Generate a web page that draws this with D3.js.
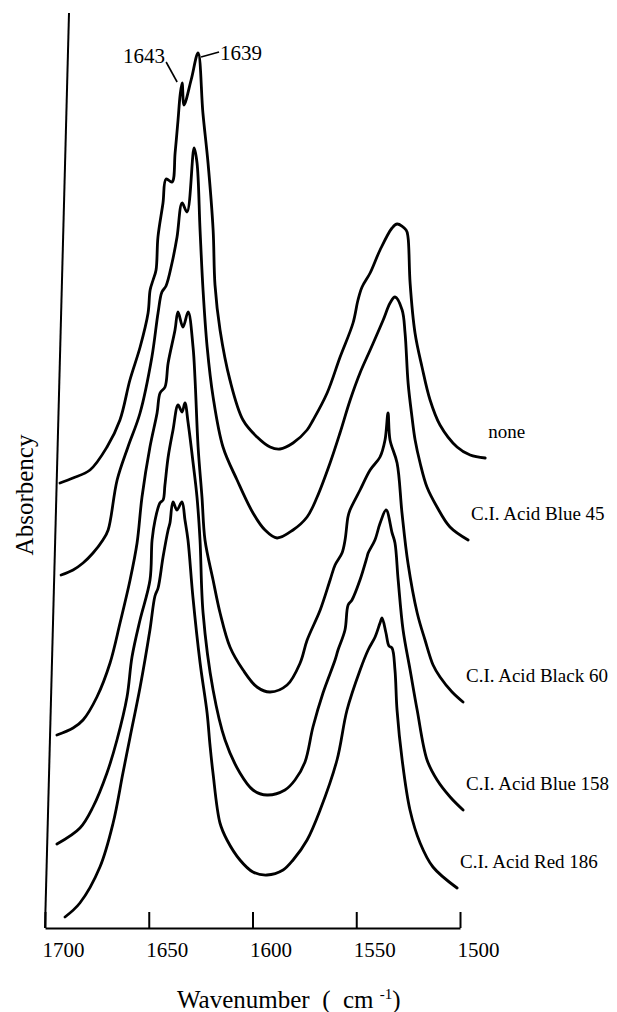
<!DOCTYPE html>
<html>
<head>
<meta charset="utf-8">
<script src="https://cdn.jsdelivr.net/npm/d3@7"></script>
<style>
body { margin: 0; background: #fff; }
svg text { font-family: "Liberation Serif", "Times New Roman", serif; fill: #000; }
path.spec { fill: none; stroke: #000; stroke-width: 2.8; stroke-linejoin: round; stroke-linecap: round; }
</style>
</head>
<body>
<div id="chart"></div>
<script>
// spectra: [wavenumber cm-1, absorbency (arb.)]
var noneData = [[1698.4,4.45],[1692.2,4.50],[1684.1,4.58],[1676.2,4.81],[1670.3,5.08],[1666.0,5.48],[1661.5,5.81],[1658.1,6.15],[1657.4,6.38],[1656.1,6.48],[1654.8,6.58],[1654.3,6.91],[1652.3,7.25],[1651.1,7.49],[1648.2,7.46],[1647.1,7.75],[1646.1,8.08],[1645.4,8.33],[1644.6,8.45],[1643.4,8.23],[1640.3,8.48],[1637.3,8.75],[1634.2,8.15],[1631.1,7.65],[1627.8,6.98],[1626.2,6.43],[1623.2,5.98],[1617.8,5.48],[1611.0,5.08],[1604.0,4.91],[1597.6,4.81],[1592.8,4.79],[1586.6,4.85],[1580.0,4.98],[1577.2,5.08],[1570.8,5.35],[1565.0,5.71],[1559.2,6.05],[1557.1,6.28],[1555.3,6.41],[1551.6,6.55],[1547.1,6.78],[1541.6,7.00],[1539.2,7.04],[1534.8,6.98],[1533.8,6.91],[1532.2,6.45],[1529.2,5.95],[1525.4,5.61],[1521.1,5.28],[1516.0,5.03],[1507.5,4.81],[1501.1,4.73],[1493.8,4.70]];

var blue45Data = [[1696.7,3.53],[1691.0,3.58],[1686.3,3.65],[1681.6,3.75],[1677.0,3.88],[1674.6,3.98],[1670.9,4.48],[1666.1,4.81],[1660.7,5.15],[1655.7,5.71],[1653.3,6.15],[1651.7,6.36],[1649.8,6.42],[1647.2,6.65],[1645.1,6.91],[1643.1,7.25],[1640.6,7.16],[1638.0,7.80],[1636.4,7.65],[1634.1,6.98],[1631.9,6.38],[1629.2,5.81],[1625.7,5.31],[1620.3,4.81],[1613.1,4.48],[1605.0,4.15],[1599.0,3.98],[1593.1,3.90],[1585.5,3.98],[1578.9,4.11],[1574.3,4.31],[1568.5,4.65],[1564.1,4.95],[1559.6,5.28],[1555.2,5.55],[1550.6,5.78],[1544.7,6.08],[1541.6,6.25],[1539.3,6.31],[1535.7,6.18],[1534.0,5.95],[1531.9,5.45],[1529.6,5.11],[1527.8,4.88],[1525.1,4.65],[1521.5,4.41],[1516.4,4.21],[1509.9,4.01],[1501.0,3.88]];

var black60Data = [[1696.7,1.93],[1689.0,2.00],[1684.3,2.08],[1677.9,2.31],[1672.0,2.65],[1667.7,3.05],[1663.4,3.48],[1660.5,3.85],[1658.7,4.31],[1655.5,4.81],[1652.5,5.15],[1651.3,5.35],[1649.0,5.41],[1647.8,5.65],[1644.9,5.98],[1643.7,6.16],[1641.1,6.01],[1638.8,6.16],[1636.0,5.81],[1634.6,5.48],[1632.3,4.81],[1629.8,4.31],[1627.8,3.88],[1623.4,3.48],[1619.6,3.15],[1614.4,2.81],[1607.8,2.58],[1600.9,2.41],[1594.5,2.36],[1586.4,2.43],[1580.4,2.65],[1577.3,2.88],[1571.4,3.18],[1567.0,3.48],[1564.8,3.63],[1561.6,3.75],[1560.3,3.88],[1559.2,4.11],[1558.3,4.18],[1553.7,4.38],[1549.1,4.58],[1544.5,4.71],[1542.3,4.88],[1541.2,5.15],[1539.9,4.88],[1536.2,4.65],[1533.2,4.15],[1529.7,3.65],[1524.6,3.15],[1520.5,2.88],[1516.3,2.63],[1512.8,2.51],[1506.8,2.36],[1501.4,2.26]];

var blue158Data = [[1695.3,0.84],[1684.4,1.00],[1678.4,1.21],[1672.1,1.55],[1667.7,1.88],[1663.4,2.31],[1661.5,2.71],[1658.1,3.08],[1653.8,3.48],[1653.3,3.88],[1652.1,4.08],[1650.0,4.25],[1648.5,4.28],[1647.8,4.43],[1646.6,4.71],[1644.6,4.98],[1642.5,5.23],[1640.5,5.16],[1639.2,5.25],[1637.4,5.05],[1634.5,4.65],[1632.2,4.31],[1630.2,3.88],[1627.8,3.15],[1622.0,2.38],[1615.6,1.88],[1608.0,1.55],[1601.5,1.38],[1594.7,1.33],[1586.1,1.38],[1581.4,1.48],[1576.8,1.66],[1573.4,2.01],[1569.0,2.35],[1563.6,2.68],[1562.3,2.78],[1559.2,2.98],[1558.0,3.23],[1556.2,3.28],[1552.6,3.48],[1549.5,3.71],[1549.0,3.75],[1545.9,3.88],[1543.6,4.05],[1540.9,4.18],[1537.7,3.95],[1536.2,3.85],[1534.2,3.48],[1531.2,2.98],[1527.3,2.58],[1523.4,2.18],[1518.0,1.68],[1512.9,1.48],[1506.4,1.31],[1500.0,1.18]];

var red186Data = [[1690.5,0.11],[1683.5,0.25],[1674.3,0.61],[1668.5,1.05],[1664.4,1.55],[1661.4,1.91],[1657.2,2.41],[1653.2,2.98],[1651.2,3.32],[1649.8,3.40],[1647.8,3.71],[1645.7,3.98],[1644.9,4.05],[1643.7,4.26],[1641.7,4.18],[1639.4,4.26],[1637.7,4.08],[1636.0,3.88],[1632.9,3.31],[1628.6,2.65],[1624.6,2.15],[1622.8,1.83],[1621.0,1.55],[1617.0,1.05],[1613.4,0.88],[1606.9,0.68],[1600.5,0.56],[1593.7,0.53],[1586.0,0.58],[1581.3,0.68],[1574.8,0.88],[1568.9,1.18],[1561.4,1.68],[1557.2,2.18],[1551.4,2.58],[1547.8,2.78],[1544.6,2.91],[1542.4,3.05],[1541.5,3.10],[1539.4,2.95],[1537.8,2.82],[1536.3,2.80],[1534.6,2.58],[1533.1,2.18],[1530.0,1.68],[1525.6,1.18],[1520.3,0.85],[1513.8,0.61],[1501.9,0.40]];

var seriesNames = ["none", "C.I. Acid Blue 45", "C.I. Acid Black 60", "C.I. Acid Blue 158", "C.I. Acid Red 186"];
var allSeries = [noneData, blue45Data, black60Data, blue158Data, red186Data];
var wnTicks = [1700, 1650, 1600, 1550, 1500];
var peakLabels = ["1643", "1639"];

var width = 617, height = 1012;
var serif = '"Liberation Serif", "Times New Roman", serif';
var x = d3.scaleLinear().domain([1700, 1500]).range([45, 460]);
var y = d3.scaleLinear().domain([0, 9.15]).range([928, 13]);

// the original scan leans a little to the right
var slant = 24 / 915;
function sx(d) { return x(d[0]) + slant * (y(0) - y(d[1])); }

var svg = d3.select("#chart").append("svg")
    .attr("width", width)
    .attr("height", height);

var plot = svg.append("g")
    .attr("transform", "translate(0," + y(0) + ") skewX(" + (-Math.atan(slant) * 180 / Math.PI) + ") translate(0," + (-y(0)) + ")");

// y axis (no ticks)
plot.append("line")
    .attr("x1", x(1700)).attr("x2", x(1700))
    .attr("y1", y(0)).attr("y2", y(9.15))
    .attr("stroke", "#000").attr("stroke-width", 2);

var line = d3.line()
    .x(function(d) { return x(d[0]); })
    .y(function(d) { return y(d[1]); })
    .curve(d3.curveCatmullRom.alpha(0.5));

plot.selectAll("path.spec")
    .data(allSeries)
    .enter().append("path")
    .attr("class", "spec")
    .attr("d", line);

// x axis
var xAxis = d3.axisBottom(x)
    .tickValues(wnTicks)
    .tickSizeInner(-16)
    .tickSizeOuter(0)
    .tickFormat(d3.format("d"));

var gx = svg.append("g")
    .attr("transform", "translate(0," + y(0) + ")")
    .call(xAxis)
    .attr("font-family", serif);
gx.select(".domain").attr("stroke-width", 2);
gx.selectAll(".tick line").attr("stroke-width", 2);
gx.selectAll(".tick text")
    .attr("y", 29).attr("dy", null).attr("x", -3)
    .attr("text-anchor", "start")
    .style("font-family", serif)
    .style("font-size", "21px");

// curve labels, placed by the end of each trace
svg.selectAll("text.name")
    .data(allSeries)
    .enter().append("text")
    .attr("class", "name")
    .attr("x", function(d) { return sx(d[d.length - 1]) + 3; })
    .attr("y", function(d) { return y(d[d.length - 1][1]) - 20; })
    .style("font-size", "19px")
    .text(function(d, i) { return seriesNames[i]; });

// peak annotations on the top trace
var peakLayout = [
    {tx: -59, ty: -20, lx1: -16, ly1: -21, lx2: -5, ly2: -1},
    {tx: 22, ty: 7, lx1: 3, ly1: 4, lx2: 21, ly2: -1}
];
peakLabels.forEach(function(lab, i) {
    var wn = +lab;
    var near = noneData.filter(function(d) { return Math.abs(d[0] - wn) <= 2; });
    var pk = near.reduce(function(a, b) { return b[1] > a[1] ? b : a; });
    var ax = sx(pk), ay = y(pk[1]), L = peakLayout[i];
    svg.append("line")
        .attr("x1", ax + L.lx1).attr("y1", ay + L.ly1)
        .attr("x2", ax + L.lx2).attr("y2", ay + L.ly2)
        .attr("stroke", "#000").attr("stroke-width", 1.6);
    svg.append("text")
        .attr("x", ax + L.tx).attr("y", ay + L.ty)
        .style("font-size", "21px")
        .text(lab);
});

// axis titles
svg.append("text")
    .attr("transform", "translate(33,495) rotate(-90)")
    .attr("text-anchor", "middle")
    .style("font-size", "25px")
    .text("Absorbency");

var xt = svg.append("text")
    .attr("x", 177).attr("y", 1008)
    .style("font-size", "25px")
    .style("white-space", "pre");
xt.append("tspan").text("Wavenumber  (  cm ");
xt.append("tspan").attr("dy", -9).style("font-size", "15px").text("-1");
xt.append("tspan").attr("dy", 9).text(")");
</script>
</body>
</html>
